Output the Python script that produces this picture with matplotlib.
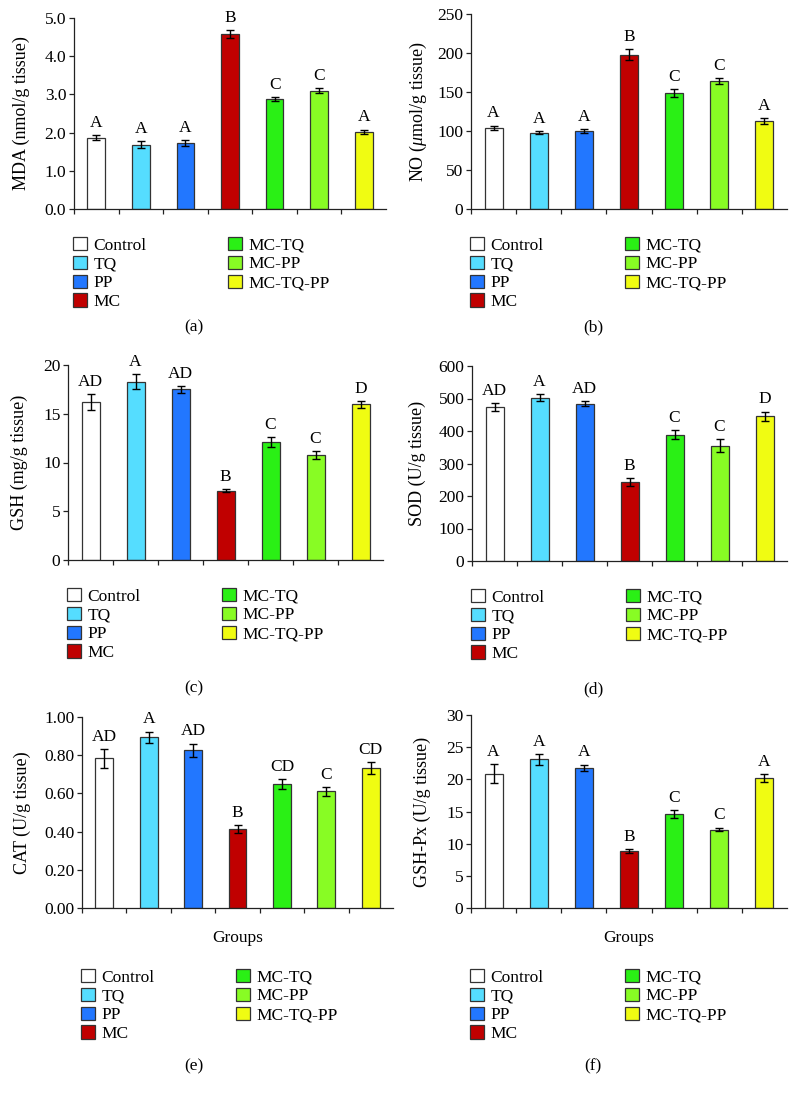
import matplotlib
matplotlib.use("Agg")
import matplotlib.pyplot as plt
from matplotlib.patches import Patch
import numpy as np

plt.rcParams['font.family'] = ['Liberation Serif', 'DejaVu Serif']
plt.rcParams['mathtext.fontset'] = 'custom'
plt.rcParams['mathtext.it'] = 'Liberation Serif:italic'
plt.rcParams['mathtext.rm'] = 'Liberation Serif'

groups = ['Control', 'TQ', 'PP', 'MC', 'MC-TQ', 'MC-PP', 'MC-TQ-PP']
colors = ['#ffffff', '#55ddff', '#2277ff', '#c00000', '#2af015', '#88fc24', '#f0fc12']

mda_mean = [1.87, 1.68, 1.72, 4.58, 2.88, 3.10, 2.02]
mda_err = [0.07, 0.09, 0.08, 0.10, 0.06, 0.06, 0.06]
mda_letters = ['A', 'A', 'A', 'B', 'C', 'C', 'A']

no_mean = [104, 98, 100, 198, 149, 164, 113]
no_err = [3, 2, 2, 6.5, 5, 4, 4]
no_letters = ['A', 'A', 'A', 'B', 'C', 'C', 'A']

gsh_mean = [16.2, 18.3, 17.5, 7.1, 12.1, 10.8, 15.95]
gsh_err = [0.8, 0.75, 0.35, 0.15, 0.5, 0.4, 0.35]
gsh_letters = ['AD', 'A', 'AD', 'B', 'C', 'C', 'D']

sod_mean = [474, 503, 484, 243, 389, 355, 446]
sod_err = [12, 10, 7, 12, 13, 19, 14]
sod_letters = ['AD', 'A', 'AD', 'B', 'C', 'C', 'D']

cat_mean = [0.783, 0.894, 0.826, 0.412, 0.650, 0.610, 0.734]
cat_err = [0.05, 0.03, 0.035, 0.02, 0.025, 0.022, 0.03]
cat_letters = ['AD', 'A', 'AD', 'B', 'CD', 'C', 'CD']

gpx_mean = [20.86, 23.1, 21.8, 8.8, 14.6, 12.2, 20.2]
gpx_err = [1.5, 0.8, 0.5, 0.3, 0.6, 0.3, 0.6]
gpx_letters = ['A', 'A', 'A', 'B', 'C', 'C', 'A']

W, H = 798, 1098
fig = plt.figure(figsize=(W / 100, H / 100), dpi=100)

FS = 12.5
edge = '#333333'

panels = [
    (mda_mean, mda_err, mda_letters, 'MDA (nmol/g tissue)', 5.0, np.arange(0, 5.01, 1.0), '{:.1f}',
     (74, 18, 386, 209), 30, '(a)', False),
    (no_mean, no_err, no_letters, r'NO ($\mu$mol/g tissue)', 250, np.arange(0, 251, 50), '{:.0f}',
     (471, 14, 787, 209), 429, '(b)', False),
    (gsh_mean, gsh_err, gsh_letters, 'GSH (mg/g tissue)', 20, np.arange(0, 21, 5), '{:.0f}',
     (68, 365, 383, 560), 28, '(c)', False),
    (sod_mean, sod_err, sod_letters, 'SOD (U/g tissue)', 600, np.arange(0, 601, 100), '{:.0f}',
     (472, 366, 787, 561), 426, '(d)', False),
    (cat_mean, cat_err, cat_letters, 'CAT (U/g tissue)', 1.0, np.arange(0, 1.001, 0.2), '{:.2f}',
     (82, 717, 393, 908), 31, '(e)', True),
    (gpx_mean, gpx_err, gpx_letters, 'GSH-Px (U/g tissue)', 30, np.arange(0, 31, 5), '{:.0f}',
     (471, 715, 787, 908), 431, '(f)', True),
]

x = np.arange(len(groups))
handles = [Patch(facecolor=c, edgecolor=edge, linewidth=0.9) for c in colors]

for (mean, err, letters, ylabel, ymax, yticks, fmt, box, ylx, cap, glab) in panels:
    l, t, r, b = box
    ax = fig.add_axes([l / W, 1 - b / H, (r - l) / W, (b - t) / H])
    ax.bar(x, mean, width=0.4, color=colors, edgecolor=edge, linewidth=0.9, zorder=2)
    ax.errorbar(x, mean, yerr=err, fmt='none', ecolor='black', elinewidth=1.0,
                capsize=2.6, capthick=1.0, zorder=3)
    for xi, m, e, s in zip(x, mean, err, letters):
        ax.annotate(s, (xi, m + e), xytext=(0, 3), textcoords='offset points',
                    ha='center', va='bottom', fontsize=FS)
    ax.set_xlim(-0.5, 6.5)
    ax.set_ylim(0, ymax)
    ax.set_yticks(yticks)
    ax.set_yticklabels([fmt.format(v) for v in yticks], fontsize=FS)
    ax.set_xticks(np.arange(-0.5, 6.0, 1.0))
    ax.set_xticklabels([])
    ax.tick_params(axis='both', direction='out', length=3.5, width=0.9, colors='#222222',
                   labelcolor='black', pad=2)
    for sp in ['top', 'right']:
        ax.spines[sp].set_visible(False)
    for sp in ['left', 'bottom']:
        ax.spines[sp].set_color('#222222')
        ax.spines[sp].set_linewidth(0.9)
    ax.set_ylabel(ylabel, fontsize=FS + 0.5)
    ax.yaxis.set_label_coords((ylx - l) / (r - l), 0.5)
    if glab:
        ax.set_xlabel('Groups', fontsize=FS)
        ax.xaxis.set_label_coords(0.5, (b - 930) / (b - t))
        leg_top = b + 61
        cap_y = 1066
    else:
        leg_top = b + 28
        cap_y = b + 118 if b < 300 else b + 128
    fig.legend(handles, groups, loc='upper left',
               bbox_to_anchor=((l - 1) / W, 1 - leg_top / H),
               ncol=2, frameon=False, fontsize=FS, handlelength=0.78, handleheight=0.78,
               handletextpad=0.4, columnspacing=4.7, labelspacing=0.13,
               borderpad=0, borderaxespad=0)
    cx = 194 if l < 300 else 593
    fig.text(cx / W, 1 - cap_y / H, cap, ha='center', va='center', fontsize=FS)

fig.savefig('out.png', dpi=100)
